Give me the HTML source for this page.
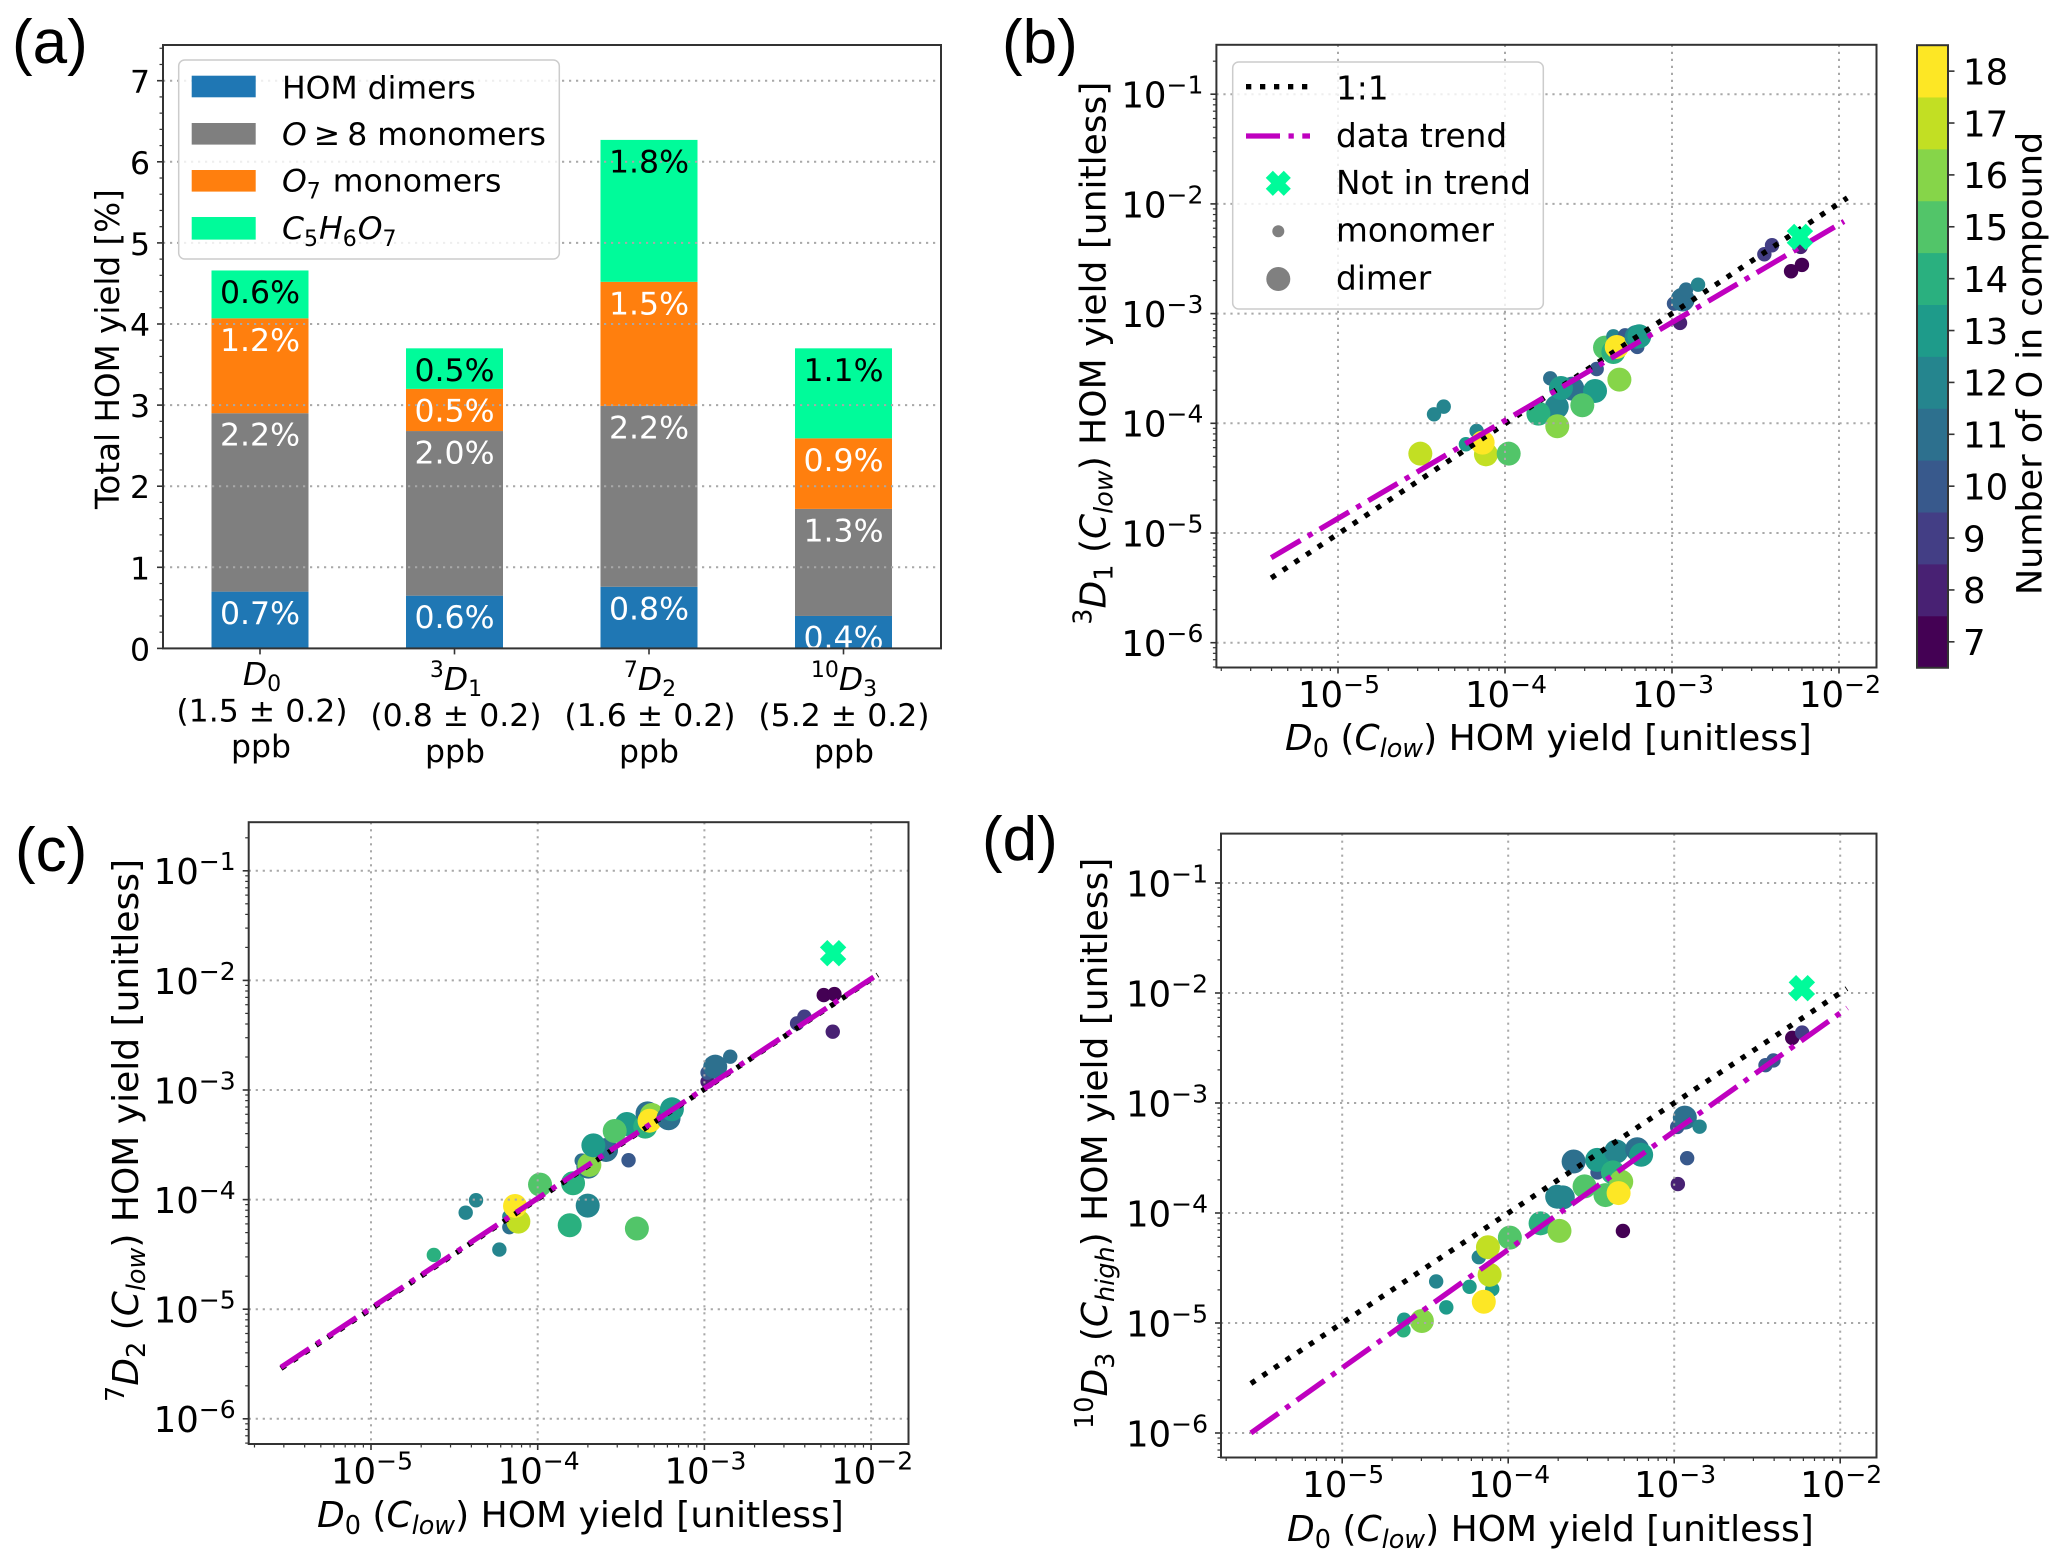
<!DOCTYPE html>
<html lang="en">
<head>
<meta charset="utf-8">
<title>HOM yield comparison</title>
<style>
html,body{margin:0;padding:0;background:#fff;width:2067px;height:1567px;overflow:hidden}
svg{display:block}
text{font-family:"DejaVu Sans","Liberation Sans",sans-serif;fill:#000}
.panel-letter{font-family:"Liberation Sans",sans-serif;font-size:62px}
.s31{font-size:31.5px}
.s33{font-size:32.7px}
.s34{font-size:36px}
.sub{font-size:22px}
.sub34{font-size:25.5px}
.it{font-style:italic}
</style>
</head>
<body>
<svg width="2067" height="1567" viewBox="0 0 2067 1567">
<rect x="0" y="0" width="2067" height="1567" fill="#fff"/>

<text class="panel-letter" x="12" y="63">(a)</text>
<text class="panel-letter" x="1002" y="63">(b)</text>
<text class="panel-letter" x="15" y="871">(c)</text>
<text class="panel-letter" x="982" y="860">(d)</text>

<g id="panel-a"></g>
<g>
  <rect x="178.7" y="60" width="380.6" height="199" rx="6" fill="#fff" fill-opacity="0.8" stroke="#ccc" stroke-width="1.5"/>
  <rect x="191.7" y="75.7" width="64" height="21.6" fill="#1f77b4"/>
  <rect x="191.7" y="123" width="64" height="21.6" fill="#7f7f7f"/>
  <rect x="191.7" y="170" width="64" height="21.6" fill="#ff7f0e"/>
  <rect x="191.7" y="217" width="64" height="22.6" fill="#00fb9a"/>
  <text class="s31" x="282" y="98.3">HOM dimers</text>
  <text class="s31" x="282" y="145"><tspan class="it">O</tspan><tspan dx="7">≥</tspan><tspan dx="7">8 monomers</tspan></text>
  <text class="s31" x="282" y="191.7"><tspan class="it">O</tspan><tspan class="sub" dy="7">7</tspan><tspan dy="-7" dx="2"> monomers</tspan></text>
  <text class="s31 it" x="282" y="239">C<tspan class="sub" dy="7" style="font-style:normal">5</tspan><tspan dy="-7" dx="1">H</tspan><tspan class="sub" dy="7" style="font-style:normal">6</tspan><tspan dy="-7" dx="1">O</tspan><tspan class="sub" dy="7" style="font-style:normal">7</tspan></text>
</g>
<text style="font-size:32.6px" transform="translate(119,509) rotate(-90)">Total HOM yield [%]</text>

<g>
  <text class="s31" text-anchor="middle" x="262" y="685"><tspan class="it">D</tspan><tspan class="sub" dy="6">0</tspan></text>
  <text class="s31" text-anchor="middle" x="262" y="721.7">(1.5 ± 0.2)</text>
  <text class="s31" text-anchor="middle" x="261" y="757">ppb</text>
  <text class="s31" text-anchor="middle" x="456" y="690"><tspan class="sub" dy="-13">3</tspan><tspan class="it" dy="13">D</tspan><tspan class="sub" dy="6">1</tspan></text>
  <text class="s31" text-anchor="middle" x="456" y="726">(0.8 ± 0.2)</text>
  <text class="s31" text-anchor="middle" x="455" y="762">ppb</text>
  <text class="s31" text-anchor="middle" x="650" y="690"><tspan class="sub" dy="-13">7</tspan><tspan class="it" dy="13">D</tspan><tspan class="sub" dy="6">2</tspan></text>
  <text class="s31" text-anchor="middle" x="650" y="726">(1.6 ± 0.2)</text>
  <text class="s31" text-anchor="middle" x="649" y="762">ppb</text>
  <text class="s31" text-anchor="middle" x="844" y="690"><tspan class="sub" dy="-13">10</tspan><tspan class="it" dy="13">D</tspan><tspan class="sub" dy="6">3</tspan></text>
  <text class="s31" text-anchor="middle" x="844" y="726">(5.2 ± 0.2)</text>
  <text class="s31" text-anchor="middle" x="844" y="762">ppb</text>
</g>

<g id="panel-b"></g>
<g>
  <rect x="1232.7" y="62" width="310.6" height="247" rx="6" fill="#fff" fill-opacity="0.8" stroke="#ccc" stroke-width="1.5"/>
  <line x1="1246" x2="1310" y1="86.7" y2="86.7" stroke="#000" stroke-width="5.3" stroke-dasharray="5.3 8.7"/>
  <line x1="1246" x2="1310" y1="136" y2="136" stroke="#bf00bf" stroke-width="5.3" stroke-dasharray="34 8.5 5.3 8.5"/>
  <g transform="translate(1278.3,183.3)">
    <path d="M-9,-9L9,9M-9,9L9,-9" stroke="#00fb9a" stroke-width="10" fill="none"/>
  </g>
  <circle cx="1278.3" cy="231.3" r="6" fill="#808080"/>
  <circle cx="1278.3" cy="279" r="12" fill="#808080"/>
  <text class="s33" x="1336" y="99.3">1:1</text>
  <text class="s33" x="1336" y="147">data trend</text>
  <text class="s33" x="1336" y="194">Not in trend</text>
  <text class="s33" x="1336" y="241.3">monomer</text>
  <text class="s33" x="1336" y="289.3">dimer</text>
</g>
<text class="s34" x="1285" y="750"><tspan class="it">D</tspan><tspan class="sub34" dy="7">0</tspan><tspan dy="-7"> (</tspan><tspan class="it">C</tspan><tspan class="sub34 it" dy="7">low</tspan><tspan dy="-7">) HOM yield [unitless]</tspan></text>
<text class="s34" transform="translate(1105.5,624.7) rotate(-90)"><tspan class="sub34" dy="-14">3</tspan><tspan class="it" dy="14">D</tspan><tspan class="sub34" dy="7">1</tspan><tspan dy="-7"> (</tspan><tspan class="it">C</tspan><tspan class="sub34 it" dy="7">low</tspan><tspan dy="-7">) HOM yield [unitless]</tspan></text>

<g id="panel-c"></g>
<text class="s34" x="317" y="1527"><tspan class="it">D</tspan><tspan class="sub34" dy="7">0</tspan><tspan dy="-7"> (</tspan><tspan class="it">C</tspan><tspan class="sub34 it" dy="7">low</tspan><tspan dy="-7">) HOM yield [unitless]</tspan></text>
<text class="s34" transform="translate(138,1402) rotate(-90)"><tspan class="sub34" dy="-14">7</tspan><tspan class="it" dy="14">D</tspan><tspan class="sub34" dy="7">2</tspan><tspan dy="-7"> (</tspan><tspan class="it">C</tspan><tspan class="sub34 it" dy="7">low</tspan><tspan dy="-7">) HOM yield [unitless]</tspan></text>

<g id="panel-d"></g>
<text class="s34" x="1287" y="1541"><tspan class="it">D</tspan><tspan class="sub34" dy="7">0</tspan><tspan dy="-7"> (</tspan><tspan class="it">C</tspan><tspan class="sub34 it" dy="7">low</tspan><tspan dy="-7">) HOM yield [unitless]</tspan></text>
<text class="s34" transform="translate(1106.8,1429) rotate(-90)"><tspan class="sub34" dy="-14">10</tspan><tspan class="it" dy="14">D</tspan><tspan class="sub34" dy="7">3</tspan><tspan dy="-7"> (</tspan><tspan class="it">C</tspan><tspan class="sub34 it" dy="7">high</tspan><tspan dy="-7">) HOM yield [unitless]</tspan></text>

<g id="colorbar"></g>
<text style="font-size:35px" transform="translate(2041.7,595) rotate(-90)">Number of O in compound</text>
</svg>

<script>
/* ---------- panel (a) data ---------- */
const barCategories = ['D0', '3D1', '7D2', '10D3'];
const dimerYield = [0.70, 0.65, 0.76, 0.40];
const o8Yield = [2.20, 2.03, 2.23, 1.32];
const o7Yield = [1.17, 0.52, 1.53, 0.87];
const c5h6o7Yield = [0.59, 0.50, 1.75, 1.11];
const dimerPrinted = ['0.7%', '0.6%', '0.8%', '0.4%'];
const o8Printed = ['2.2%', '2.0%', '2.2%', '1.3%'];
const o7Printed = ['1.2%', '0.5%', '1.5%', '0.9%'];
const c5h6o7Printed = ['0.6%', '0.5%', '1.8%', '1.1%'];
const barYTicks = [0, 1, 2, 3, 4, 5, 6, 7];

/* ---------- shared tick labels (decade exponents) ---------- */
const xDecadeTicks = [-5, -4, -3, -2];
const yDecadeTicks = [-6, -5, -4, -3, -2, -1];
const colorbarTicks = [7, 8, 9, 10, 11, 12, 13, 14, 15, 16, 17, 18];

/* ---------- panel (b) data: log10 of yields ---------- */
const bLogD0 = [-4.425,-4.367,-4.507,-4.17,-4.234,-4.114,-4.134,-3.978,-3.69,-3.80,-3.687,-3.729,-3.597,-3.665,-3.461,-3.537,-3.315,-3.451,-3.401,-3.351,-3.351,-3.281,-3.208,-3.331,-3.212,-3.196,-2.952,-2.988,-2.936,-2.916,-2.844,-2.447,-2.401,-2.287,-2.222,-2.23];
const bLogYield = [-3.918,-3.848,-4.277,-4.07,-4.191,-4.283,-4.176,-4.277,-3.85,-3.912,-4.027,-3.59,-3.684,-3.678,-3.705,-3.836,-3.602,-3.505,-3.31,-3.35,-3.207,-3.198,-3.304,-3.304,-3.213,-3.207,-3.085,-2.909,-2.872,-2.781,-2.736,-2.459,-2.377,-2.614,-2.556,-2.392];
const bOxygen = [12,12,17,12,13,17,18,15,12,14,16,11,11,13,13,15,16,10,15,14,12,10,10,18,12,13,8,10,11,11,12,9,9,7,7,8];
const bKind = ['m','m','d','m','m','d','d','d','d','d','d','m','d','d','d','d','d','m','d','d','m','m','m','d','d','d','m','m','d','m','m','m','m','m','m','m'];
const bOneToOneX = [-5.4, -1.95];
const bOneToOneY = [-5.41, -1.945];
const bTrendX = [-5.4, -1.97];
const bTrendY = [-5.225, -2.16];
const bNotInTrend = [-2.234, -2.301];

/* ---------- panel (c) data ---------- */
const cLogD0 = [-4.623,-4.432,-4.37,-4.23,-4.17,-4.17,-4.116,-4.136,-3.986,-3.808,-3.70,-3.405,-3.455,-3.788,-3.736,-3.696,-3.69,-3.59,-3.666,-3.465,-3.538,-3.355,-3.341,-3.315,-3.329,-3.215,-3.195,-2.981,-2.981,-2.935,-2.845,-2.444,-2.40,-2.284,-2.22,-2.23];
const cLogYield = [-4.505,-4.119,-4.006,-4.456,-4.252,-4.155,-4.201,-4.058,-3.863,-4.234,-4.055,-4.264,-3.641,-3.851,-3.644,-3.699,-3.684,-3.547,-3.505,-3.31,-3.374,-3.334,-3.213,-3.228,-3.28,-3.258,-3.176,-2.924,-2.842,-2.787,-2.696,-2.392,-2.331,-2.134,-2.125,-2.468];
const cOxygen = [14,12,12,12,11,12,17,18,15,14,12,15,10,14,11,11,16,11,13,13,15,14,11,16,18,11,13,8,10,11,11,9,9,7,7,8];
const cKind = ['m','m','m','m','m','m','d','d','d','d','d','d','m','d','m','d','d','d','d','d','d','d','d','d','d','d','d','m','m','d','m','m','m','m','m','m'];
const cOneToOneX = [-5.54, -1.96];
const cOneToOneY = [-5.54, -1.95];
const cTrendX = [-5.54, -1.96];
const cTrendY = [-5.53, -1.945];
const cNotInTrend = [-2.228, -1.752];

/* ---------- panel (d) data ---------- */
const dLogD0 = [-4.627,-4.631,-4.52,-4.434,-4.373,-4.233,-4.177,-4.096,-4.122,-4.112,-4.147,-3.99,-3.805,-3.691,-3.705,-3.671,-3.606,-3.462,-3.464,-3.54,-3.414,-3.349,-3.369,-3.319,-3.335,-3.309,-3.223,-3.199,-2.982,-2.936,-2.847,-2.922,-2.978,-2.45,-2.402,-2.289,-2.229];
const dLogYield = [-4.97,-5.066,-4.982,-4.622,-4.858,-4.671,-4.402,-4.692,-4.311,-4.562,-4.807,-4.224,-4.094,-4.163,-3.852,-3.858,-3.532,-3.631,-3.517,-3.758,-3.837,-3.441,-3.631,-3.716,-3.819,-4.163,-3.42,-3.471,-3.218,-3.133,-3.215,-3.502,-3.737,-2.656,-2.613,-2.408,-2.36];
const dOxygen = [13,14,16,12,13,13,12,13,17,17,18,15,14,16,12,12,11,10,13,15,15,12,14,16,18,7,11,13,10,11,12,10,8,10,10,7,9];
const dKind = ['m','m','d','m','m','m','m','m','d','d','d','d','d','d','d','d','d','m','d','d','d','d','d','d','d','m','d','d','m','d','m','m','m','m','m','m','m'];
const dOneToOneX = [-5.55, -1.96];
const dOneToOneY = [-5.55, -1.96];
const dTrendX = [-5.55, -1.957];
const dTrendY = [-6.0, -2.136];
const dNotInTrend = [-2.231, -1.956];

/* viridis, 12 discrete levels for O = 7..18 */
const oxygenColors = ['#440154','#482173','#433e85','#38598c','#2d708e','#25858e','#1e9b8a','#2ab07f','#52c569','#86d549','#c2df23','#fde725'];

const SVGNS = 'http://www.w3.org/2000/svg';
function mk(parent, tag, attrs) {
  const el = document.createElementNS(SVGNS, tag);
  for (const k in attrs) el.setAttribute(k, attrs[k]);
  parent.appendChild(el);
  return el;
}
const AXIS = '#333';
const GRID = { stroke: '#a8a8a8', 'stroke-width': 2, 'stroke-dasharray': '2.2 4.8' };

/* ---------- panel (a) ---------- */
(function () {
  const g = document.getElementById('panel-a');
  const L = 163, R = 941, T = 45, B = 648.4;
  const yAxis = v => B - v * 81.1;
  const xAxis = i => 260 + 194.5 * i;
  const stack = [
    { vals: dimerYield, txt: dimerPrinted, col: '#1f77b4', ink: '#fff', key: 'dimers' },
    { vals: o8Yield, txt: o8Printed, col: '#7f7f7f', ink: '#fff', key: 'o8' },
    { vals: o7Yield, txt: o7Printed, col: '#ff7f0e', ink: '#fff', key: 'o7' },
    { vals: c5h6o7Yield, txt: c5h6o7Printed, col: '#00fb9a', ink: '#000', key: 'c5h6o7' }
  ];
  const labels = [];
  barCategories.forEach((cat, i) => {
    let base = 0;
    stack.forEach(s => {
      const top = base + s.vals[i];
      const r = mk(g, 'rect', { x: xAxis(i) - 48.5, y: yAxis(top), width: 97, height: yAxis(base) - yAxis(top), fill: s.col });
      
      
      labels.push({ x: xAxis(i), y: yAxis(top) + 32.5, t: s.txt[i], ink: s.ink, key: s.key + '-' + cat });
      base = top;
    });
  });
  barYTicks.forEach(v => {
    if (v === 0) return;
    const gl = mk(g, 'line', Object.assign({ x1: L, x2: R, y1: yAxis(v), y2: yAxis(v) }, GRID));
    
    
  });
  labels.forEach(l => {
    const t = mk(g, 'text', { x: l.x, y: l.y, 'text-anchor': 'middle', 'font-size': 31.5, style: 'fill:' + l.ink });
    t.textContent = l.t;
    
    
  });
  barYTicks.forEach(v => {
    const tick = mk(g, 'line', { x1: L - 6, x2: L, y1: yAxis(v), y2: yAxis(v), stroke: AXIS, 'stroke-width': 1.6 });
    
    
    const t = mk(g, 'text', { x: L - 13, y: yAxis(v) + 12, 'text-anchor': 'end', 'font-size': 31.5 });
    t.textContent = String(v);
    
    
  });
  for (let m = 0; m <= 37; m++) {
    if (m % 5 === 0) continue;
    const v = m * 0.2;
    const tick = mk(g, 'line', { x1: L - 3.5, x2: L, y1: yAxis(v), y2: yAxis(v), stroke: AXIS, 'stroke-width': 1.2 });
    
    
  }
  barCategories.forEach((cat, i) => {
    const tick = mk(g, 'line', { x1: xAxis(i), x2: xAxis(i), y1: B, y2: B + 6, stroke: AXIS, 'stroke-width': 1.6 });
    
    
  });
  const frame = mk(g, 'rect', { x: L, y: T, width: R - L, height: B - T, fill: 'none', stroke: AXIS, 'stroke-width': 2 });
  
  
})();

/* ---------- log-log scatter panels ---------- */
function decadeLabel(parent, x, y, anchor, exp) {
  const t = mk(parent, 'text', { x: x, y: y, 'text-anchor': anchor, 'font-size': 35.5 });
  const a = mk(t, 'tspan', {});
  a.textContent = '10';
  const b = mk(t, 'tspan', { dy: -14, 'font-size': 25 });
  b.textContent = '\u2212' + Math.abs(exp);
  return t;
}

function drawPanel(id, geo, logX, logY, oxy, kind, oneX, oneY, trendX, trendY, notIn) {
  const g = document.getElementById(id);
  const xAxis = v => geo.x5 + geo.xd * (v + 5);
  const yAxis = v => geo.y5 - geo.yd * (v + 5);
  const colorOf = o => oxygenColors[o - 7];

  logX.forEach((lx, i) => {
    const c = mk(g, 'circle', { cx: xAxis(lx), cy: yAxis(logY[i]), r: kind[i] === 'd' ? 12 : 7.2, fill: colorOf(oxy[i]) });
    
    
  });

  xDecadeTicks.forEach(e => {
    const gl = mk(g, 'line', Object.assign({ x1: xAxis(e), x2: xAxis(e), y1: geo.T, y2: geo.B }, GRID));
    
    
  });
  yDecadeTicks.forEach(e => {
    const gl = mk(g, 'line', Object.assign({ x1: geo.L, x2: geo.R, y1: yAxis(e), y2: yAxis(e) }, GRID));
    
    
  });

  const one = mk(g, 'line', { x1: xAxis(oneX[0]), y1: yAxis(oneY[0]), x2: xAxis(oneX[1]), y2: yAxis(oneY[1]), stroke: '#000', 'stroke-width': 5.3, 'stroke-dasharray': '5.3 8.7' });
  
  
  const trend = mk(g, 'line', { x1: xAxis(trendX[0]), y1: yAxis(trendY[0]), x2: xAxis(trendX[1]), y2: yAxis(trendY[1]), stroke: '#bf00bf', 'stroke-width': 5.3, 'stroke-dasharray': '34 8.5 5.3 8.5' });
  
  

  const cross = mk(g, 'path', { d: 'M-9.5,-9.5L9.5,9.5M-9.5,9.5L9.5,-9.5', stroke: '#00fb9a', 'stroke-width': 10.5, fill: 'none', transform: 'translate(' + xAxis(notIn[0]) + ',' + yAxis(notIn[1]) + ')' });
  
  

  /* major ticks and labels */
  xDecadeTicks.forEach(e => {
    const tick = mk(g, 'line', { x1: xAxis(e), x2: xAxis(e), y1: geo.B, y2: geo.B + 6, stroke: AXIS, 'stroke-width': 1.6 });
    
    
    const t = decadeLabel(g, xAxis(e) + 1, geo.B + 39.5, 'middle', e);
    
    
  });
  yDecadeTicks.forEach(e => {
    const tick = mk(g, 'line', { x1: geo.L - 6, x2: geo.L, y1: yAxis(e), y2: yAxis(e), stroke: AXIS, 'stroke-width': 1.6 });
    
    
    const t = decadeLabel(g, geo.L - 13, yAxis(e) + 13.4, 'end', e);
    
    
  });
  /* minor ticks */
  for (let d = -8; d <= 0; d++) {
    for (let k = 2; k <= 9; k++) {
      const lv = d + Math.log10(k);
      const px = xAxis(lv);
      if (px > geo.L && px < geo.R) {
        const mt = mk(g, 'line', { x1: px, x2: px, y1: geo.B, y2: geo.B + 3.5, stroke: AXIS, 'stroke-width': 1.2 });
        
        
      }
      const py = yAxis(lv);
      if (py > geo.T && py < geo.B) {
        const mt = mk(g, 'line', { x1: geo.L - 3.5, x2: geo.L, y1: py, y2: py, stroke: AXIS, 'stroke-width': 1.2 });
        
        
      }
    }
  }
  const frame = mk(g, 'rect', { x: geo.L, y: geo.T, width: geo.R - geo.L, height: geo.B - geo.T, fill: 'none', stroke: AXIS, 'stroke-width': 2 });
  
  
}

drawPanel('panel-b', { x5: 1338, xd: 167, y5: 533, yd: 109.7, L: 1216.4, R: 1876.5, T: 44.8, B: 667.5 },
  bLogD0, bLogYield, bOxygen, bKind, bOneToOneX, bOneToOneY, bTrendX, bTrendY, bNotInTrend);
drawPanel('panel-c', { x5: 371, xd: 166.7, y5: 1309.2, yd: 109.6, L: 248.7, R: 908.5, T: 822.2, B: 1444 },
  cLogD0, cLogYield, cOxygen, cKind, cOneToOneX, cOneToOneY, cTrendX, cTrendY, cNotInTrend);
drawPanel('panel-d', { x5: 1342.2, xd: 166, y5: 1323, yd: 110, L: 1221, R: 1876.5, T: 833.6, B: 1457.5 },
  dLogD0, dLogYield, dOxygen, dKind, dOneToOneX, dOneToOneY, dTrendX, dTrendY, dNotInTrend);

/* ---------- colorbar ---------- */
(function () {
  const g = document.getElementById('colorbar');
  const L = 1917, R = 1948, T = 45.2, step = 51.88;
  const yAxis = o => T + (18.5 - o) * step;
  colorbarTicks.forEach((o, i) => {
    const seg = mk(g, 'rect', { x: L, y: yAxis(o + 0.5), width: R - L, height: step + 0.4, fill: oxygenColors[i] });
    
    
  });
  colorbarTicks.forEach(o => {
    const tick = mk(g, 'line', { x1: R, x2: R + 6.5, y1: yAxis(o), y2: yAxis(o), stroke: AXIS, 'stroke-width': 1.6 });
    
    
    const t = mk(g, 'text', { x: 1963, y: yAxis(o) + 13.3, 'font-size': 35.5 });
    t.textContent = String(o);
    
    
  });
  const frame = mk(g, 'rect', { x: L, y: T, width: R - L, height: 12 * step, fill: 'none', stroke: AXIS, 'stroke-width': 2 });
  
  
})();
</script>
</body>
</html>
